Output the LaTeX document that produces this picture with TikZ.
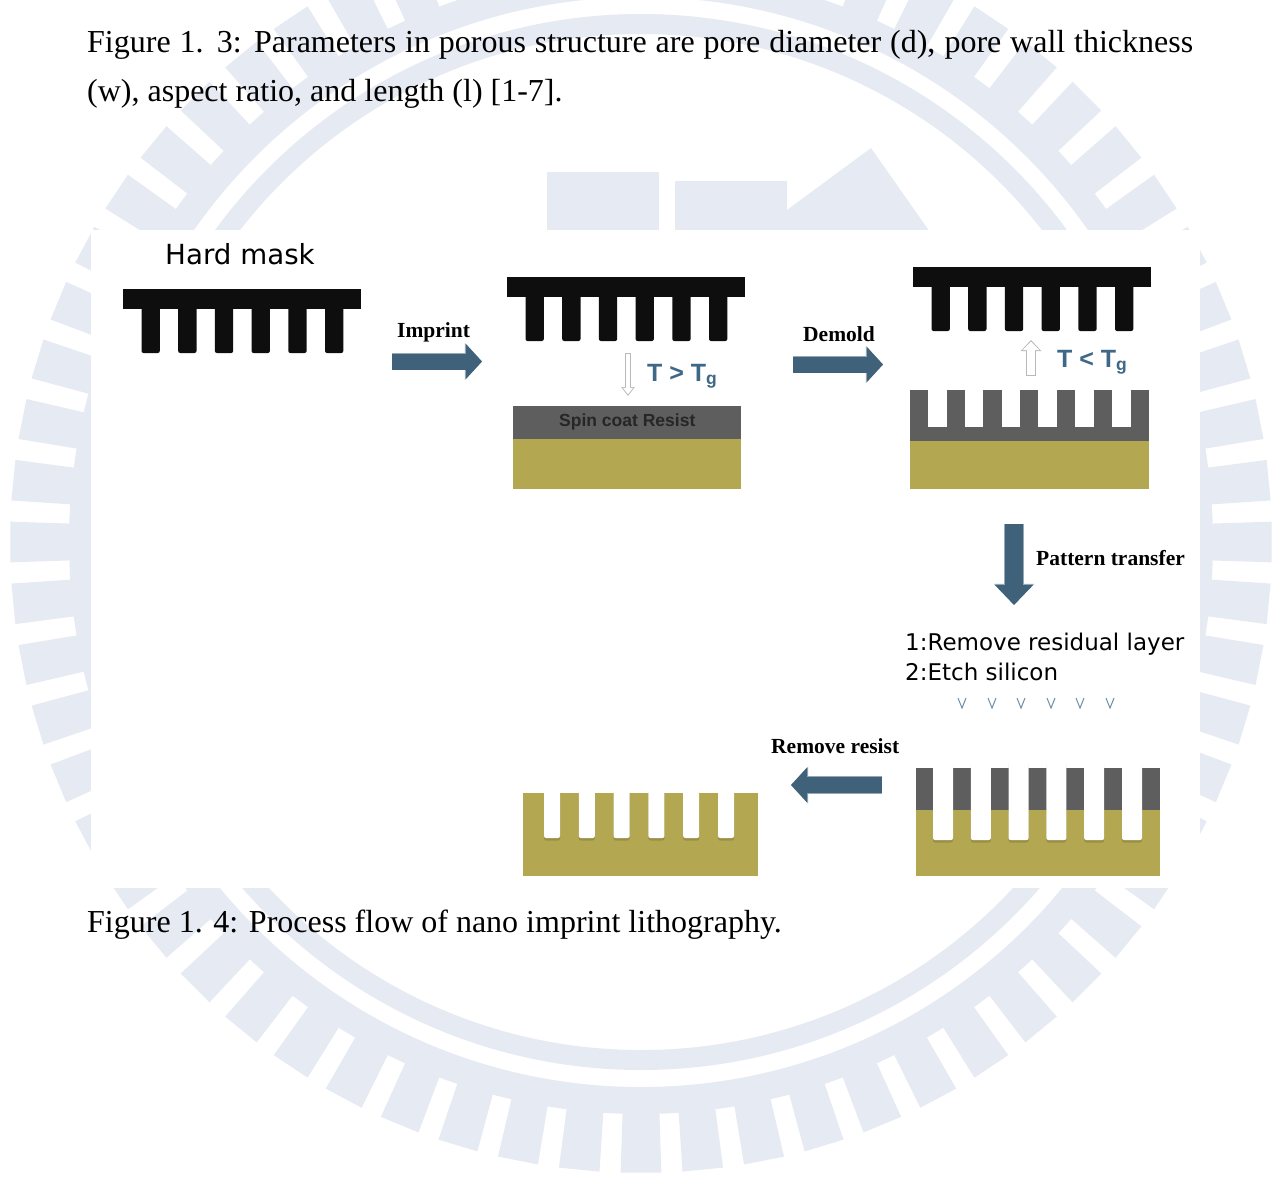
\documentclass[tikz,border=0pt]{standalone}
\usepackage{fontspec}
\setmainfont{Liberation Serif}
\newfontfamily\tahoma{DejaVu Sans}
\newfontfamily\arial{Liberation Sans}
\usetikzlibrary{arrows.meta}

\definecolor{logoblue}{RGB}{230,234,243}
\definecolor{maskblack}{RGB}{14,14,14}
\definecolor{resistgray}{RGB}{94,94,94}
\definecolor{silicon}{RGB}{180,167,82}
\definecolor{steel}{RGB}{63,97,122}
\definecolor{tempblue}{RGB}{62,104,136}

\tikzset{
  flowarrow/.style={line width=16pt, steel, -{Triangle[width=34pt,length=16pt]},
    preaction={draw, line width=17.6pt, steel!55!white, -{Triangle[width=36pt,length=17.2pt]}}},
  steplabel/.style={font=\bfseries\fontsize{21.5}{24}\selectfont, inner sep=0pt, anchor=base west},
  templabel/.style={font=\arial\bfseries\fontsize{25}{28}\selectfont, text=tempblue, inner sep=0pt, anchor=base west},
  sanslabel/.style={font=\tahoma\fontsize{23}{26}\selectfont, inner sep=0pt, anchor=base west},
  caption/.style={font=\fontsize{32}{36}\selectfont, inner sep=0pt, anchor=base west},
  trench/.style={fill=white, rounded corners=2pt,
    preaction={fill=black, opacity=0.14, transform canvas={yshift=-2.5pt}}},
  hardmask/.pic={
    \fill[maskblack] (0,0) rectangle (238,20);
    \foreach \k in {0,...,5}
      \fill[maskblack, rounded corners=2pt] (18.5+36.7*\k,10) rectangle ++(18.3,54);
  },
}

\begin{document}
\begin{tikzpicture}[x=1pt,y=-1pt]
  \useasboundingbox (0,0) rectangle (1274,1176);

  % LOGO IN THE BACKGROUND
  \begin{scope}
    \clip (0,0) rectangle (1274,1176);
    \begin{scope}[shift={(641,542)}]
      \foreach \i in {0,...,63}
        \fill[logoblue] ({\i*5.625-1.85}:570) -- ({\i*5.625-1.85}:631)
          -- ({\i*5.625+1.85}:631) -- ({\i*5.625+1.85}:570) -- cycle;
      \fill[logoblue, even odd rule] (0,0) circle[radius=572] (0,0) circle[radius=545];
      \fill[logoblue, even odd rule] (0,0) circle[radius=528] (0,0) circle[radius=508];
    \end{scope}
    \fill[logoblue] (547,172) rectangle (659,232);
    \fill[logoblue] (675,181) rectangle (787,232);
    \fill[logoblue] (757,232) -- (871,148) -- (930,232) -- cycle;
  \end{scope}
  \fill[white] (91,230) rectangle (1200,888);

  % CAPTIONS
  \node[caption] (cap1) at (87,52)
    {\makebox[1106pt][s]{Figure 1. 3: Parameters in porous structure are pore diameter (d), pore wall thickness}};
  \node[caption] (cap2) at (87,101) {(w), aspect ratio, and length (l) [1-7].};
  \node[caption] (cap3) at (87,932) {Figure 1. 4: Process flow of nano imprint lithography.};

  % MASKS
  \node[sanslabel, font=\tahoma\fontsize{27.7}{30}\selectfont] (hardlbl) at (165,264) {Hard mask};
  \pic (m1) at (123,289) {hardmask};
  \pic (m2) at (507,277) {hardmask};
  \pic (m3) at (913,267) {hardmask};

  % SPIN COATED WAFER
  \fill[resistgray] (513,406) rectangle (741,439);
  \fill[silicon] (513,439) rectangle (741,489);
  \node[font=\arial\bfseries\fontsize{17.5}{20}\selectfont, text=black!85, inner sep=0pt, anchor=base west]
    (spin) at (559,426) {Spin coat Resist};

  % IMPRINTED RESIST
  \fill[resistgray] (910,390) rectangle (1149,441);
  \foreach \k in {0,...,5}
    \fill[white] (928+36.8*\k,389) rectangle ++(18.6,38);
  \fill[silicon] (910,441) rectangle (1149,489);

  % ETCHED, RESIST STILL ON
  \fill[resistgray] (916,768) rectangle (1160,810);
  \fill[silicon] (916,810) rectangle (1160,876);
  \foreach \k in {0,...,5}
    \path[trench] (933+37.8*\k,760) rectangle ++(20,80);

  % FINAL SILICON
  \fill[silicon] (523,793) rectangle (758,876);
  \foreach \k in {0,...,5}
    \path[trench] (544+34.8*\k,788) rectangle ++(16,50);

  % PROCESS ARROWS
  \coordinate (imp-s) at (392,361.5);
  \coordinate (imp-e) at (482,361.5);
  \coordinate (dem-s) at (793,364.5);
  \coordinate (dem-e) at (883,364.5);
  \coordinate (pat-s) at (1014,524);
  \coordinate (pat-e) at (1014,605);
  \coordinate (rem-s) at (882,785);
  \coordinate (rem-e) at (791,785);
  \draw[flowarrow] (imp-s) -- (imp-e);
  \draw[flowarrow] (dem-s) -- (dem-e);
  \draw[line width=18pt, steel, -{Triangle[width=37pt,length=20pt]},
    preaction={draw, line width=19.6pt, steel!55!white, -{Triangle[width=39pt,length=21.2pt]}}]
    (pat-s) -- (pat-e);
  \draw[flowarrow] (rem-s) -- (rem-e);

  \node[steplabel] (imprint) at (397,337) {Imprint};
  \node[steplabel] (demold) at (803,341) {Demold};
  \node[steplabel] (transfer) at (1036,565) {Pattern transfer};
  \node[steplabel] (strip) at (771,753) {Remove resist};

  % TEMPERATURE
  \coordinate (heat-s) at (628,353);
  \coordinate (heat-e) at (628,396);
  \coordinate (cool-s) at (1031,376);
  \coordinate (cool-e) at (1031,340);
  \draw[line width=6.5pt, gray!55, -{Triangle[width=13pt,length=9pt]}] (heat-s) -- (heat-e);
  \draw[line width=4pt, white, shorten >=1.6pt, shorten <=1pt,
    -{Triangle[width=9.5pt,length=6.5pt]}] (heat-s) -- (heat-e);
  \draw[line width=10pt, gray!55, -{Triangle[width=20pt,length=11pt]}] (cool-s) -- (cool-e);
  \draw[line width=7.5pt, white, shorten >=1.6pt, shorten <=1pt,
    -{Triangle[width=16.5pt,length=8.5pt]}] (cool-s) -- (cool-e);
  \node[templabel] (hot) at (647,381) {T > T\textsubscript{g}};
  \node[templabel] (cold) at (1057,367) {T < T\textsubscript{g}};

  % ETCH STEPS
  \node[sanslabel] (rm1) at (905,650) {1:Remove residual layer};
  \node[sanslabel] (rm2) at (905,680) {2:Etch silicon};
  \foreach \x in {962,992,1021,1051,1080,1110}
    \draw[tempblue!75, line width=1pt] (\x-4,698) -- (\x,708) -- (\x+4,698);
\end{tikzpicture}
\end{document}
